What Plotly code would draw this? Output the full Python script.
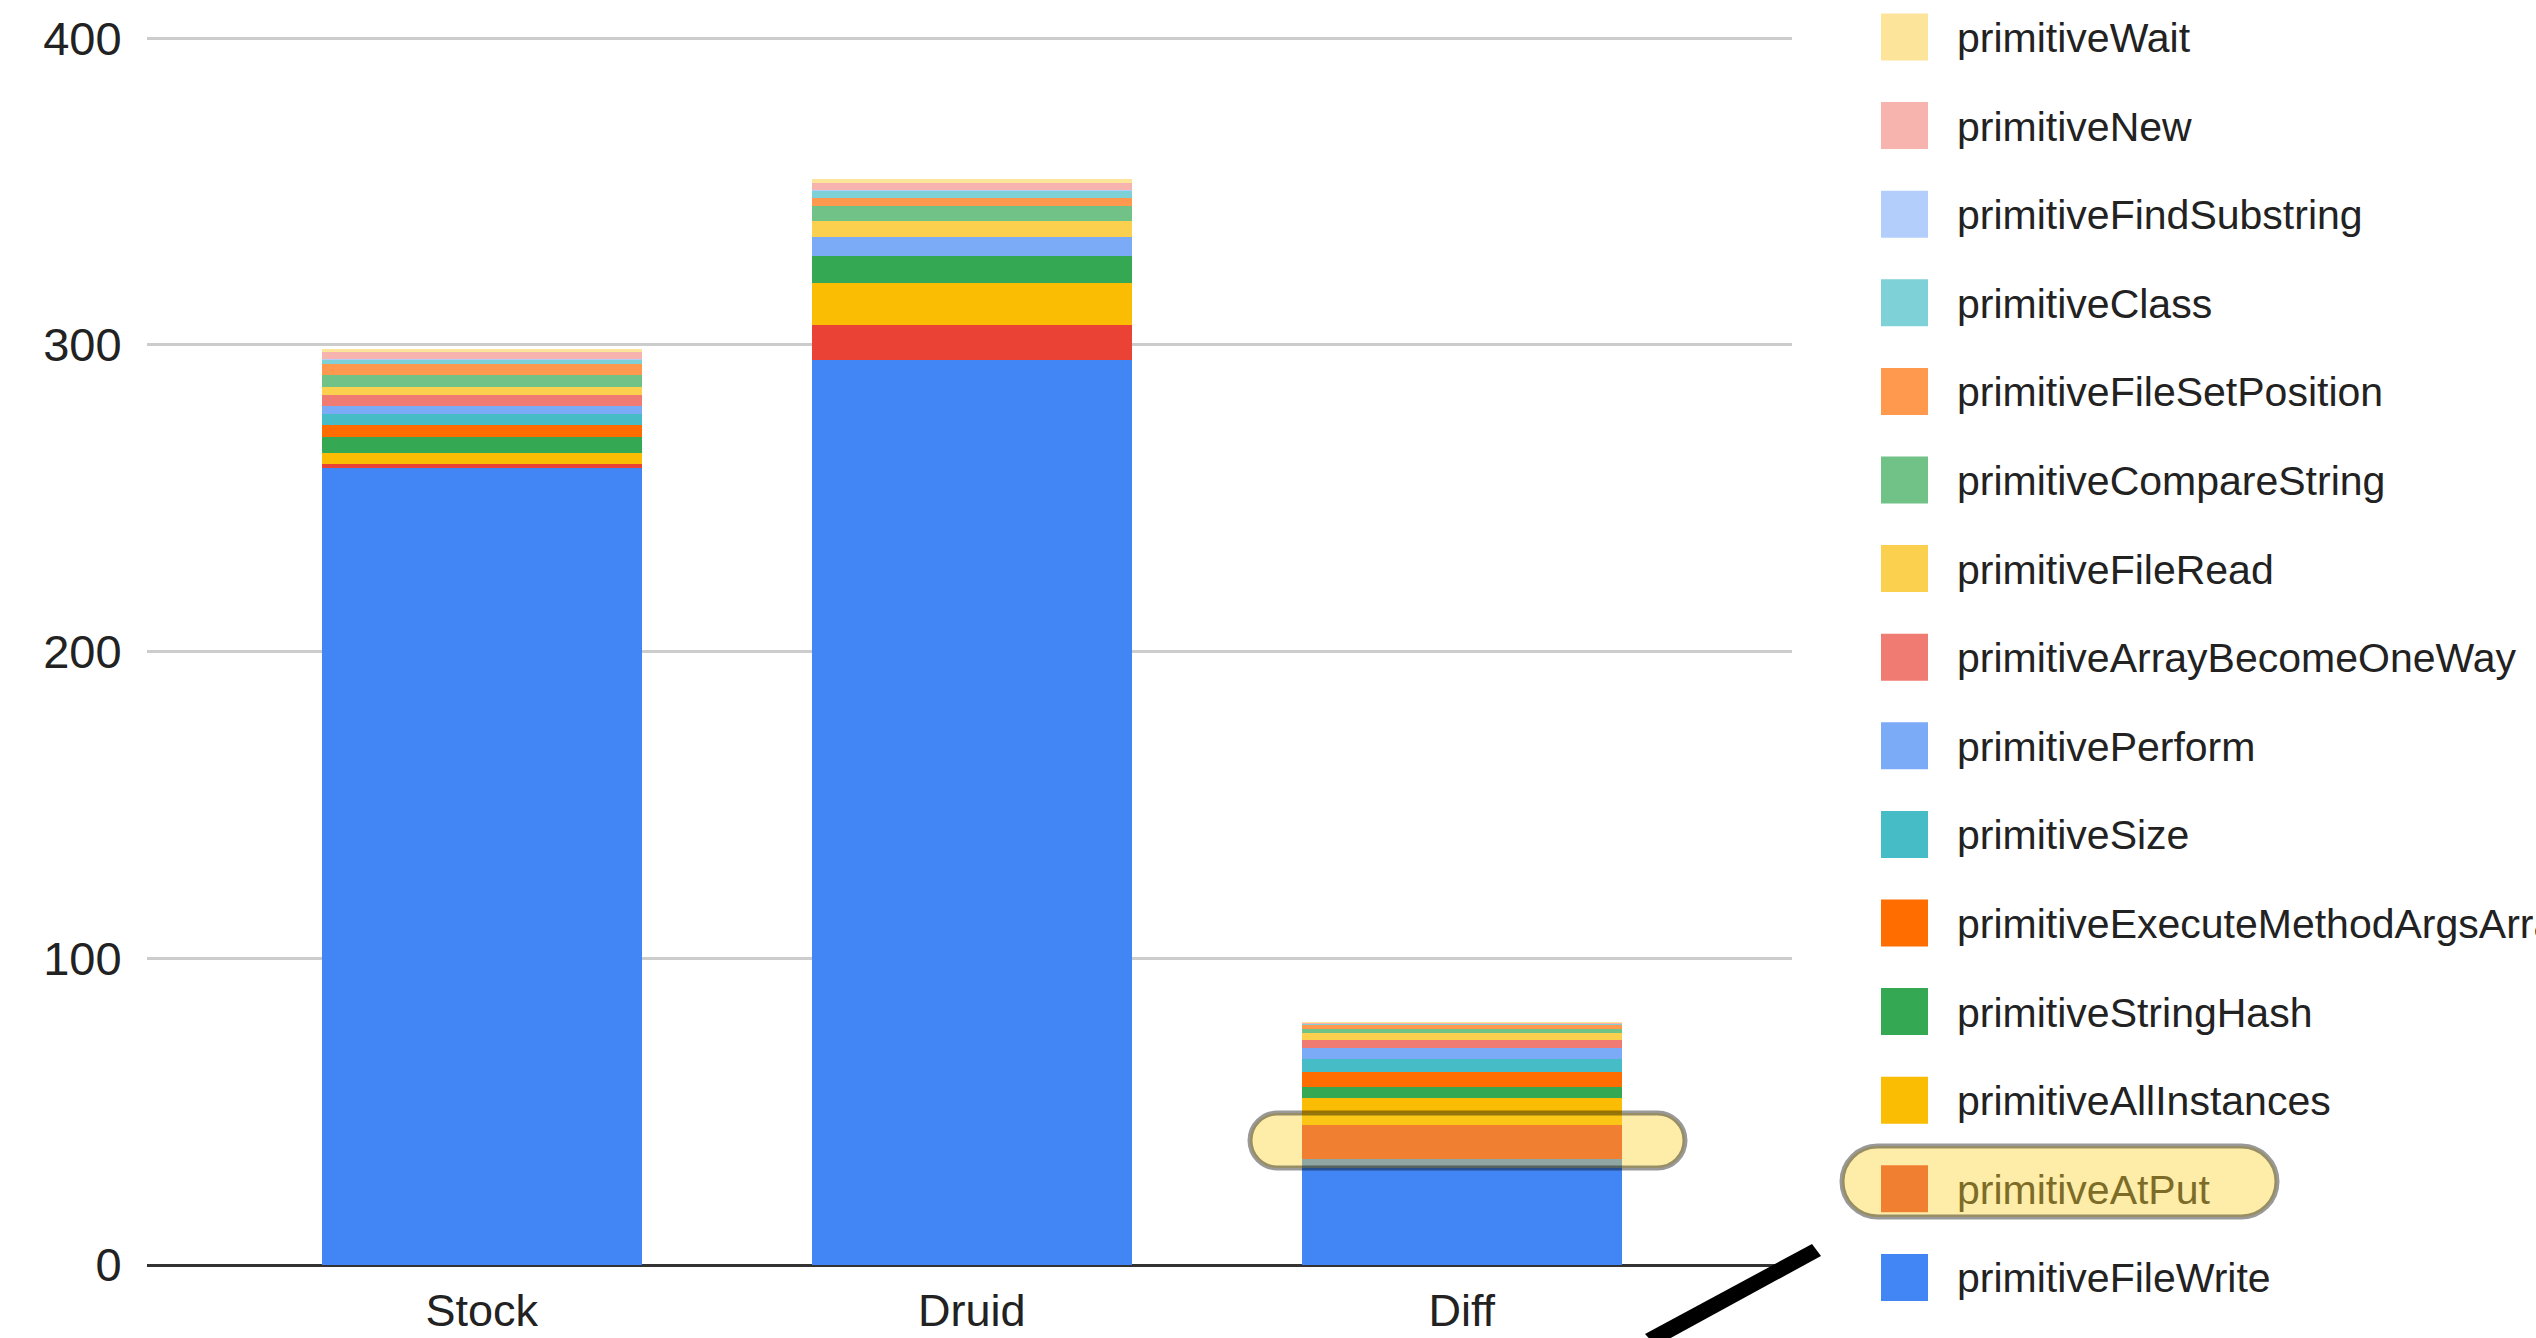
import plotly.graph_objects as go

# ---- data -------------------------------------------------------------
categories = ["Stock", "Druid", "Diff"]

# series in stacking order, bottom of the bar first
series_names = [
    "primitiveFileWrite",
    "primitiveAtPut",
    "primitiveAllInstances",
    "primitiveStringHash",
    "primitiveExecuteMethodArgsArray",
    "primitiveSize",
    "primitivePerform",
    "primitiveArrayBecomeOneWay",
    "primitiveFileRead",
    "primitiveCompareString",
    "primitiveFileSetPosition",
    "primitiveClass",
    "primitiveFindSubstring",
    "primitiveNew",
    "primitiveWait",
]

file_write = [259.8, 295.1, 34.5]
at_put = [1.4, 11.2, 11.1]
all_instances = [3.6, 13.9, 8.9]
string_hash = [5.1, 8.7, 3.6]
execute_method_args_array = [3.8, 0.0, 4.9]
size = [3.8, 0.0, 4.0]
perform = [2.5, 6.2, 3.6]
array_become_one_way = [3.7, 0.0, 2.7]
file_read = [2.5, 5.1, 2.5]
compare_string = [3.8, 5.0, 1.3]
file_set_position = [3.8, 2.6, 1.3]
class_ = [1.3, 2.5, 0.2]
find_substring = [0.2, 0.2, 0.0]
new = [2.2, 2.4, 0.3]
wait = [1.1, 1.1, 0.2]

series_values = [
    file_write, at_put, all_instances, string_hash, execute_method_args_array,
    size, perform, array_become_one_way, file_read, compare_string,
    file_set_position, class_, find_substring, new, wait,
]

series_colors = [
    "#4285F4", "#EA4335", "#FBBC04", "#34A853", "#FF6D01",
    "#46BDC6", "#7BAAF7", "#F07B72", "#FCD04F", "#71C287",
    "#FF994D", "#7ED1D7", "#B3CEFB", "#F7B4AE", "#FDE49B",
]

y_ticks = [0, 100, 200, 300, 400]
highlighted_series = "primitiveAtPut"

# ---- page geometry ------------------------------------------------------
W, H = 2536, 1338
L, R, T, B = 147, 744, 35, 73
FONT = "Liberation Sans, Arial, sans-serif"
TEXT = "#222222"


def px_x(x):
    return (x - L) / (W - L - R)


def px_y(y):
    return (H - B - y) / (H - T - B)


def pt(x, y):
    return f"{px_x(x):.5f},{px_y(y):.5f}"


def capsule(x0, y0, x1, y1):
    r = (y1 - y0) / 2
    k = 0.5523 * r
    cy = (y0 + y1) / 2
    return (
        f"M{pt(x0 + r, y0)} L{pt(x1 - r, y0)} "
        f"C{pt(x1 - r + k, y0)} {pt(x1, cy - k)} {pt(x1, cy)} "
        f"C{pt(x1, cy + k)} {pt(x1 - r + k, y1)} {pt(x1 - r, y1)} "
        f"L{pt(x0 + r, y1)} "
        f"C{pt(x0 + r - k, y1)} {pt(x0, cy + k)} {pt(x0, cy)} "
        f"C{pt(x0, cy - k)} {pt(x0 + r - k, y0)} {pt(x0 + r, y0)} Z"
    )


HL_RGB = (250, 211, 48)
HL_ALPHA = 0.42


def under_highlight(hex_color):
    c = [int(hex_color[i:i + 2], 16) for i in (1, 3, 5)]
    mixed = [round(HL_ALPHA * h + (1 - HL_ALPHA) * v) for h, v in zip(HL_RGB, c)]
    return "#%02x%02x%02x" % tuple(mixed)


# ---- bars -----------------------------------------------------------------
fig = go.Figure()
for name, vals, color in zip(series_names, series_values, series_colors):
    fig.add_trace(go.Bar(
        name=name, x=categories, y=vals,
        marker=dict(color=color, line=dict(width=0)),
        width=0.653, showlegend=False,
    ))

# ---- legend (top entry = top of stack) --------------------------------------
shapes = []
annotations = []
legend_order = list(zip(series_names, series_colors))[::-1]
for i, (name, color) in enumerate(legend_order):
    cy = 37 + 88.6 * i
    shapes.append(dict(
        type="rect", xref="paper", yref="paper",
        x0=px_x(1881), x1=px_x(1928), y0=px_y(cy + 23.5), y1=px_y(cy - 23.5),
        fillcolor=color, line=dict(width=0), layer="above",
    ))
    annotations.append(dict(
        text=name, xref="paper", yref="paper",
        x=px_x(1955), y=px_y(cy + 1), xanchor="left", yanchor="middle",
        showarrow=False,
        font=dict(family=FONT, size=41,
                  color=under_highlight(TEXT) if name == highlighted_series else TEXT),
    ))

# ---- highlighter marks -------------------------------------------------------
for box in [(1250, 1113, 1685, 1168), (1842, 1146, 2277, 1217)]:
    shapes.append(dict(
        type="path", xref="paper", yref="paper", path=capsule(*box),
        fillcolor="rgba(%d,%d,%d,%.2f)" % (*HL_RGB, HL_ALPHA),
        line=dict(color="rgba(0,0,0,0.40)", width=5), layer="above",
    ))

# pen stroke near the axis corner
shapes.append(dict(
    type="path", xref="paper", yref="paper",
    path=f"M{pt(1645, 1334)} L{pt(1812, 1244)} L{pt(1821, 1256)} L{pt(1656, 1346)} Z",
    fillcolor="#000000", line=dict(width=0), layer="above",
))

fig.update_layout(
    template="none",
    barmode="stack",
    width=W, height=H,
    autosize=False,
    margin=dict(l=L, r=R, t=T, b=B, pad=0, autoexpand=False),
    paper_bgcolor="white", plot_bgcolor="white",
    font=dict(family=FONT, color=TEXT),
    shapes=shapes, annotations=annotations,
    showlegend=False,
    xaxis=dict(
        automargin=False,
        range=[-0.683, 2.674], showgrid=False, zeroline=False, showline=False,
        ticks="outside", ticklen=6, tickcolor="rgba(0,0,0,0)",
        tickfont=dict(family=FONT, size=45, color=TEXT),
    ),
    yaxis=dict(
        automargin=False,
        range=[0, 401], tickvals=y_ticks, ticktext=[str(v) for v in y_ticks],
        showgrid=True, gridcolor="#cccccc", gridwidth=2.5,
        zeroline=True, zerolinecolor="#333333", zerolinewidth=3,
        showline=False, ticks="outside", ticklen=15, tickcolor="rgba(0,0,0,0)",
        tickfont=dict(family=FONT, size=47, color=TEXT),
    ),
)

fig.write_html("out.html")
